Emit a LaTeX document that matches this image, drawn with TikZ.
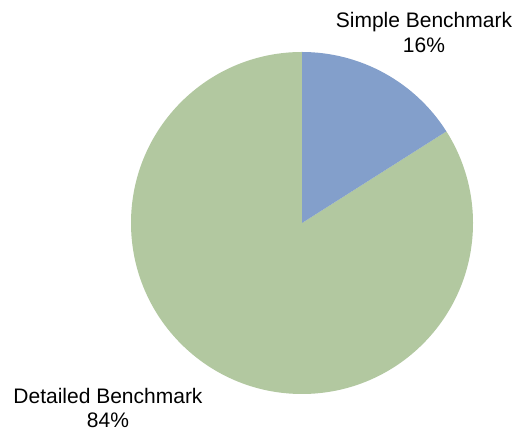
\documentclass[tikz,border=0pt]{standalone}
\usepackage{fontspec}
\setmainfont{Liberation Sans}
\definecolor{simpleblue}{RGB}{131,159,203}
\definecolor{detailgreen}{RGB}{178,200,160}
\begin{document}
\begin{tikzpicture}[x=1pt,y=1pt,
  wedge/.style={draw=none},
  pielabel/.style={align=center,inner sep=0pt,anchor=base,
    font=\fontsize{21}{24.5}\selectfont}]
  \useasboundingbox[fill=white] (0,0) rectangle (517,433);
  \coordinate (c) at (302,210);
  % Detailed Benchmark: 84%
  \fill[wedge,detailgreen] (c) -- ++(90:171) arc[start angle=90,end angle=392.4,radius=171] -- cycle;
  % Simple Benchmark: 16%
  \fill[wedge,simpleblue] (c) -- ++(90:171) arc[start angle=90,end angle=32.4,radius=171] -- cycle;
  % labels, placed by the baseline of their last line
  \node[pielabel] (simple) at (424,380.5) {Simple Benchmark\\16\%};
  \node[pielabel] (detailed) at (108,5) {Detailed Benchmark\\84\%};
\end{tikzpicture}
\end{document}
